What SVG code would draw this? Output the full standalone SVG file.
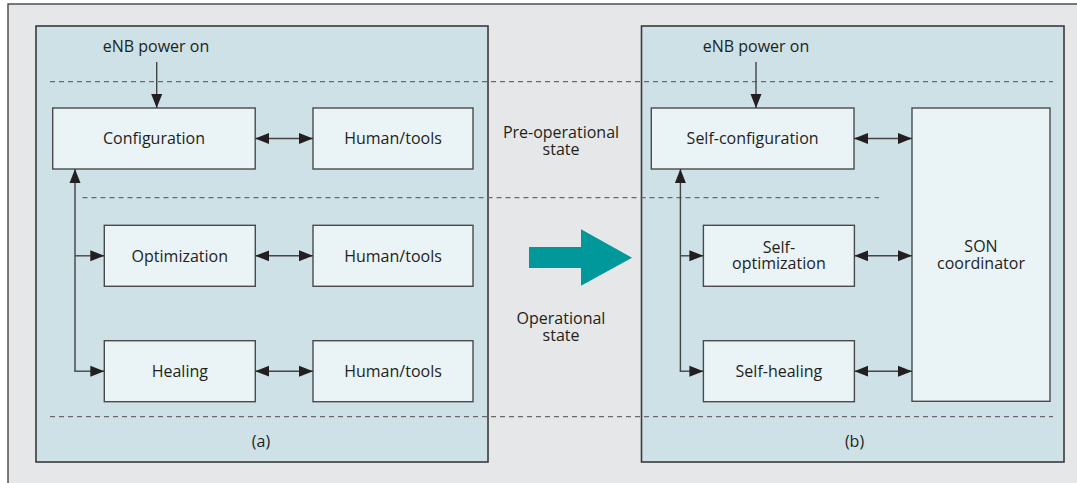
<svg xmlns="http://www.w3.org/2000/svg" width="1077" height="483" viewBox="0 0 1077 483">
<defs>
<style>
text{font-family:"Open Sans","Noto Sans","Liberation Sans",sans-serif;font-size:16px;fill:#231f20;text-anchor:middle}
.panel{fill:#cde1e6;stroke:#3a3a3a;stroke-width:1.6}
.box{fill:#eaf3f6;stroke:#4a4a4a;stroke-width:1.4}
.dash{stroke:#6a6a6a;stroke-width:1.2;stroke-dasharray:5 4;fill:none}
.con{stroke:#444;stroke-width:1.4;fill:none}
.bi{marker-start:url(#ah);marker-end:url(#ah)}
.one{marker-end:url(#ah)}
</style>
<marker id="ah" markerUnits="userSpaceOnUse" markerWidth="15" markerHeight="12" refX="14" refY="5.5" orient="auto-start-reverse" viewBox="0 0 15 11">
<path d="M0,0 L14,5.5 L0,11 Z" fill="#231f20"/>
</marker>
</defs>
<rect x="0" y="0" width="1077" height="483" fill="#ffffff"/>
<rect x="8" y="4" width="1075" height="485" fill="#e6e7e8" stroke="#444" stroke-width="1.4"/>
<g id="panel-a"><rect class="panel" x="36" y="26" width="452" height="436"/><text x="261" y="447">(a)</text></g>
<g id="panel-b"><rect class="panel" x="641.5" y="26" width="422.5" height="436"/><text x="854.5" y="447">(b)</text></g>
<g id="dividers">
<line class="dash" x1="50" y1="81.7" x2="1053" y2="81.7"/>
<line class="dash" x1="82.5" y1="197.7" x2="879" y2="197.7"/>
<line class="dash" x1="50" y1="416.7" x2="1053" y2="416.7"/>
</g>
<g id="labels">
<text x="156" y="51.7">eNB power on</text>
<text x="756" y="51.7">eNB power on</text>
<text x="561" y="137.5">Pre-operational<tspan x="561" dy="17">state</tspan></text>
<text x="561" y="324">Operational<tspan x="561" dy="17">state</tspan></text>
</g>
<g id="configuration"><rect class="box" x="52.7" y="108" width="202.5" height="61"/><text x="154" y="144">Configuration</text></g>
<g id="human-tools-1"><rect class="box" x="313" y="108" width="160" height="61"/><text x="393" y="144">Human/tools</text></g>
<g id="optimization"><rect class="box" x="104.3" y="225.3" width="151" height="61"/><text x="179.8" y="261.5">Optimization</text></g>
<g id="human-tools-2"><rect class="box" x="313" y="225.3" width="160" height="61"/><text x="393" y="261.5">Human/tools</text></g>
<g id="healing"><rect class="box" x="104.3" y="340.7" width="151" height="61"/><text x="179.8" y="377">Healing</text></g>
<g id="human-tools-3"><rect class="box" x="313" y="340.7" width="160" height="61"/><text x="393" y="377">Human/tools</text></g>
<g id="self-configuration"><rect class="box" x="651.3" y="108" width="202.7" height="61"/><text x="752.6" y="144">Self-configuration</text></g>
<g id="self-optimization"><rect class="box" x="703.4" y="225.3" width="151" height="61"/><text x="778.9" y="252.7">Self-<tspan x="778.9" dy="16.6">optimization</tspan></text></g>
<g id="self-healing"><rect class="box" x="703.4" y="340.7" width="151" height="61"/><text x="778.9" y="377">Self-healing</text></g>
<g id="son-coordinator"><rect class="box" x="912" y="108" width="138" height="293.3"/><text x="981" y="252">SON<tspan x="981" dy="16.7">coordinator</tspan></text></g>
<g id="transition-arrow"><path d="M529,247 H581 V229.3 L632,257.7 L581,285.7 V268 H529 Z" fill="#00989a"/></g>
<g id="connectors">
<line class="con one" x1="156.7" y1="62" x2="156.7" y2="108"/>
<line class="con one" x1="756" y1="62" x2="756" y2="108"/>
<line class="con one" x1="75" y1="371.2" x2="75" y2="169"/>
<line class="con one" x1="75" y1="255.8" x2="104.3" y2="255.8"/>
<line class="con one" x1="74.3" y1="371.2" x2="104.3" y2="371.2"/>
<line class="con bi" x1="255.2" y1="138.5" x2="313" y2="138.5"/>
<line class="con bi" x1="255.2" y1="255.8" x2="313" y2="255.8"/>
<line class="con bi" x1="255.2" y1="371.2" x2="313" y2="371.2"/>
<line class="con one" x1="680.4" y1="371.2" x2="680.4" y2="169"/>
<line class="con one" x1="680.4" y1="255.8" x2="703.4" y2="255.8"/>
<line class="con one" x1="679.7" y1="371.2" x2="703.4" y2="371.2"/>
<line class="con bi" x1="854" y1="138.5" x2="912" y2="138.5"/>
<line class="con bi" x1="854.4" y1="255.8" x2="912" y2="255.8"/>
<line class="con bi" x1="854.4" y1="371.2" x2="912" y2="371.2"/>
</g>
</svg>
